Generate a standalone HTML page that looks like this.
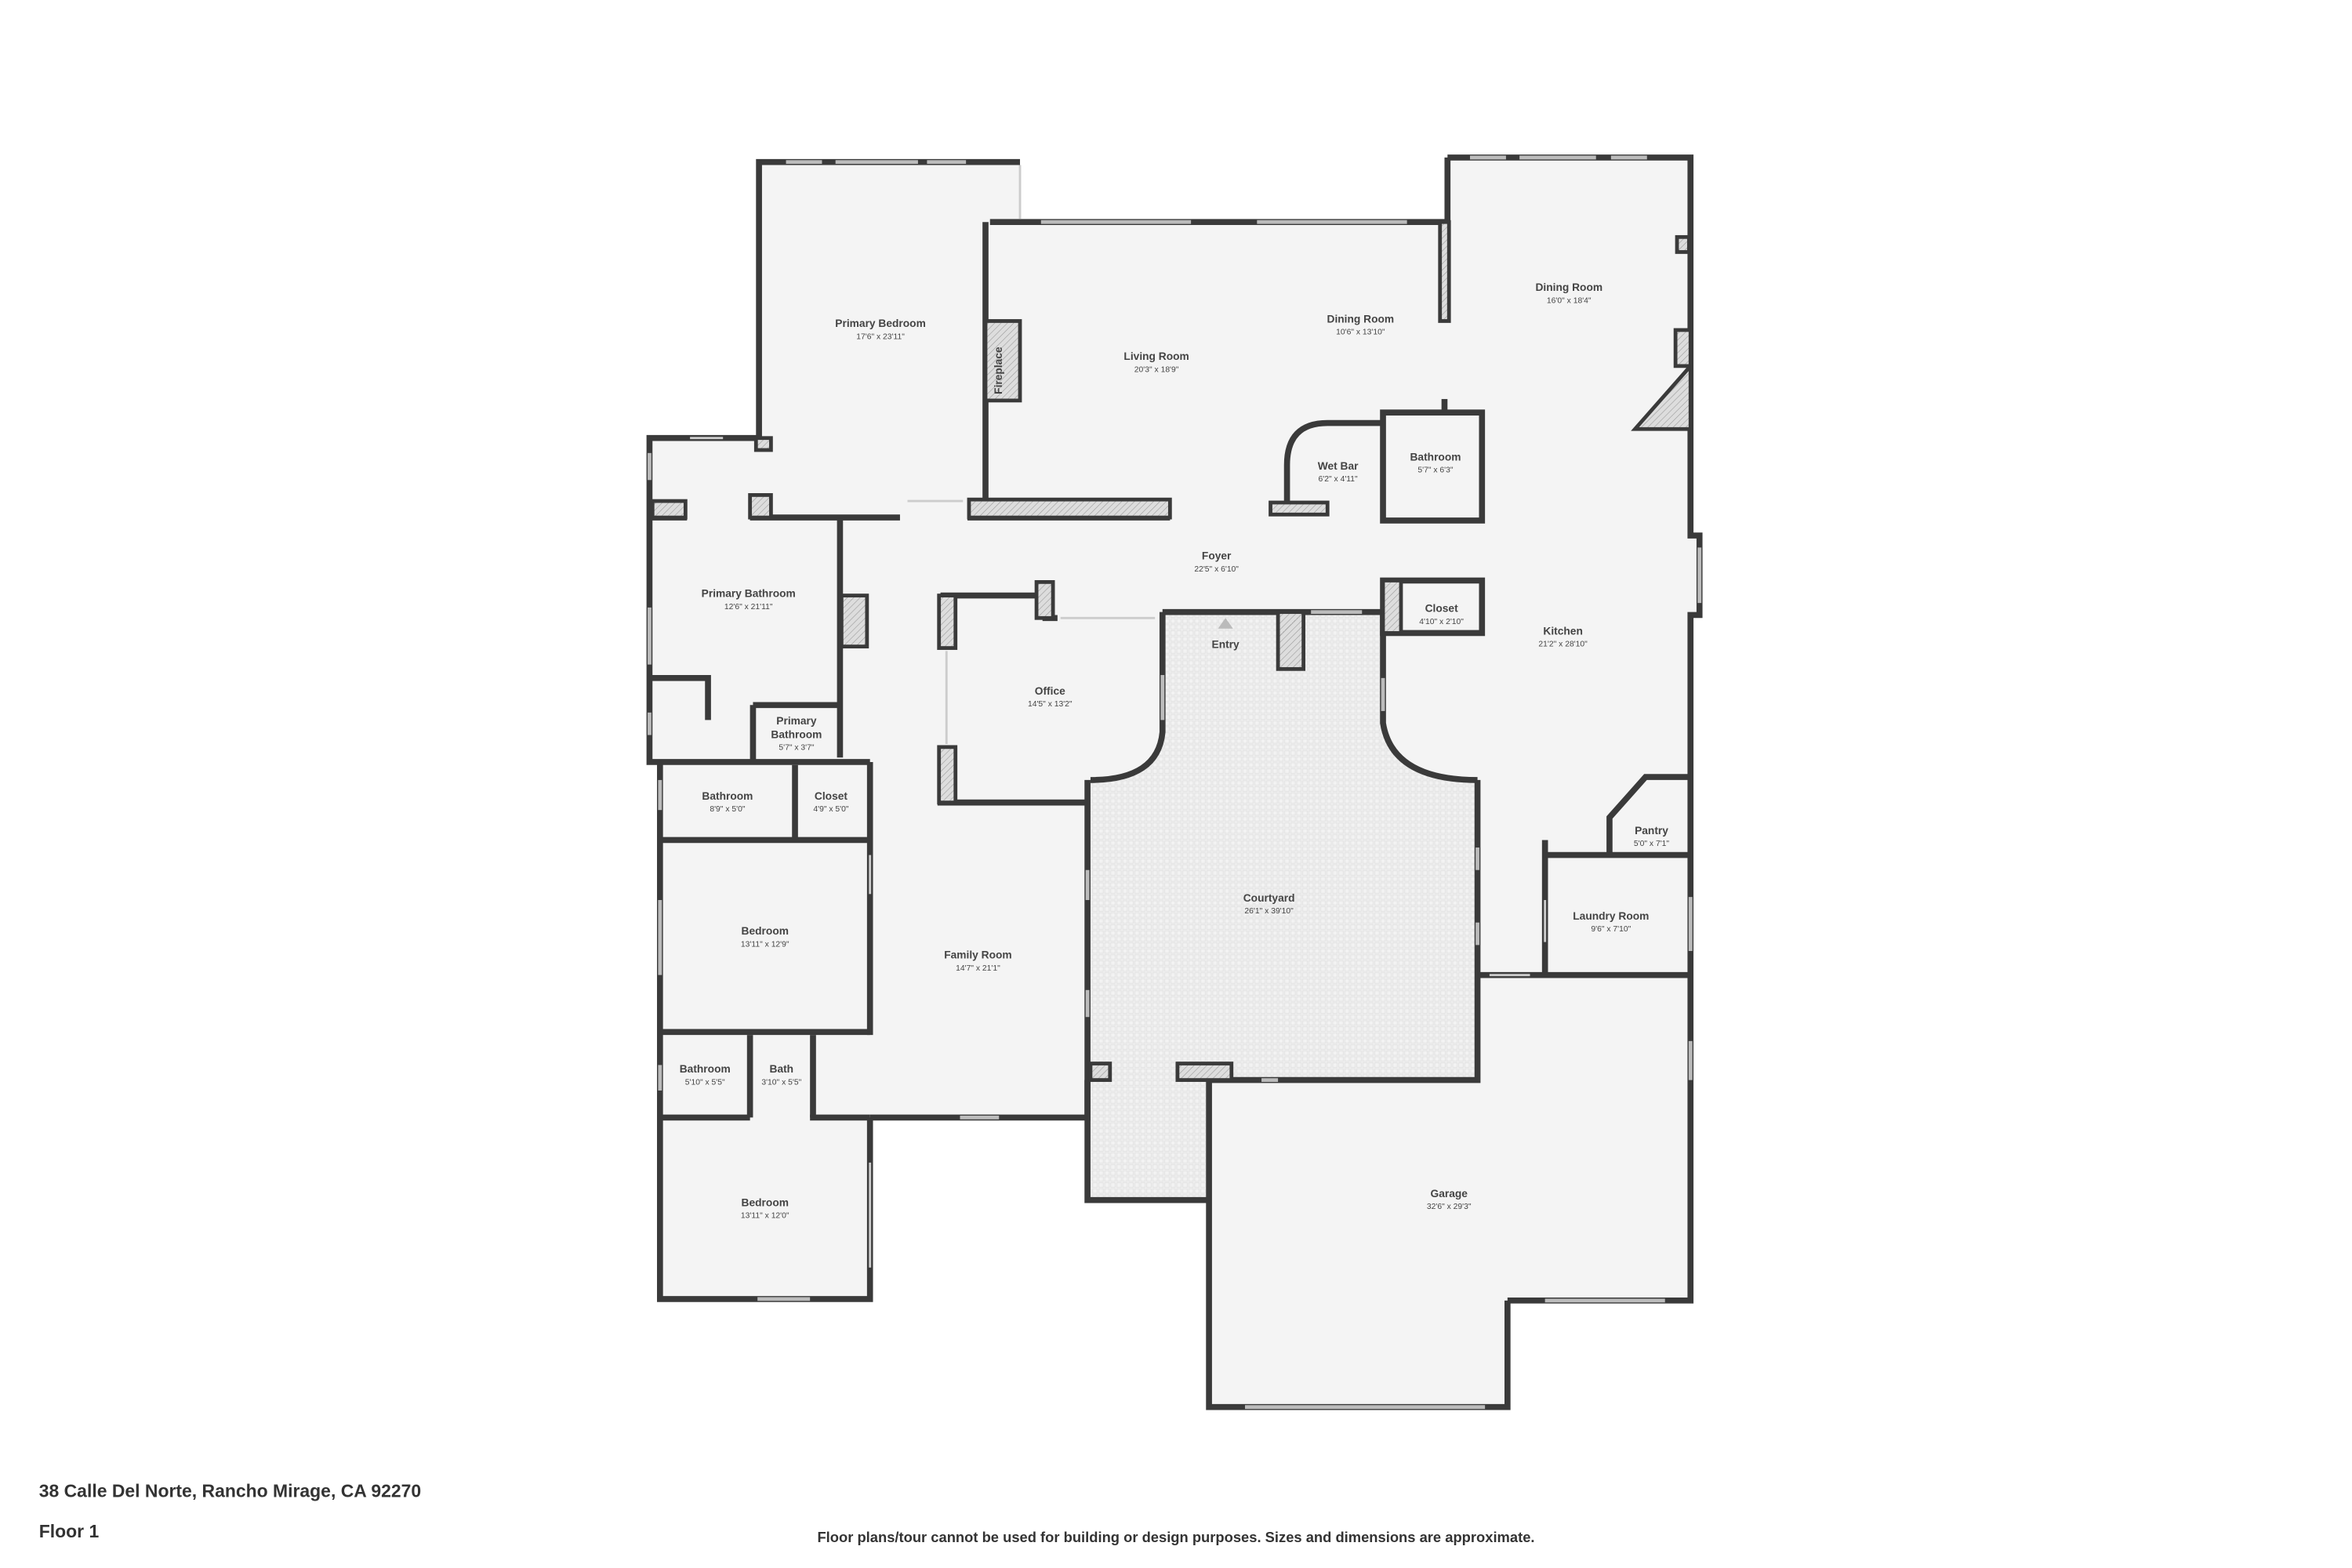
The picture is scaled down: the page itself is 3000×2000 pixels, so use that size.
<!DOCTYPE html>
<html><head><meta charset="utf-8"><style>
html,body{margin:0;padding:0;background:#fff;}
svg{display:block;}
text{font-family:"Liberation Sans",sans-serif;fill:#444;text-anchor:middle;}
.n{font-size:7.2px;font-weight:bold;}
.d{font-size:5.4px;}
</style></head><body>
<svg width="3000" height="2000" viewBox="0 0 1568 1045.3" xmlns="http://www.w3.org/2000/svg">
<defs>
<pattern id="h" width="3" height="3" patternUnits="userSpaceOnUse" patternTransform="rotate(45)"><rect width="3" height="3" fill="#ddd"/><line x1="0" y1="0" x2="0" y2="3" stroke="#999" stroke-width="0.6"/></pattern>
<pattern id="g" width="4" height="4" patternUnits="userSpaceOnUse"><rect width="4" height="4" fill="#f2f2f2"/><rect x="0.5" y="0.5" width="3" height="3" fill="none" stroke="#ddd" stroke-width="0.4"/></pattern>
</defs>
<g fill="#f4f4f4" stroke="none">
<polygon points="506,108 680,108 680,148 965,148 965,105 1127,105 1127,357 1133,357 1133,410 1127,410 1127,867 1005,867 1005,938 806,938 806,720 985,720 985,520 922,480 922,408 775,408 775,490 727,520 725,520 725,745 580,745 580,866 440,866 440,508 433,508 433,292 506,292"/>
<rect x="725" y="408" width="260" height="115"/>
</g>
<path d="M775,408 L922,408 L922,482 Q928,520 985,520 L985,720 L806,720 L806,800 L725,800 L725,520 Q772,520 775,488 Z" fill="url(#g)"/>
<g fill="none" stroke="#3a3a3a" stroke-width="4" stroke-linejoin="miter">
<polyline points="506,296 506,108 680,108"/>
<polyline points="660,148 965,148"/>
<polyline points="657,148 657,345"/>
<polyline points="965,105 1127,105 1127,357 1133,357 1133,410 1127,410 1127,867 1005,867"/>
<polyline points="1005,867 1005,938 806,938 806,720"/>
<polyline points="965,105 965,215"/>
<polyline points="506,292 433,292 433,508 580,508"/>
<polyline points="433,345 458,345"/>
<polyline points="500,345 600,345"/>
<polyline points="645,345 780,345"/>
<polyline points="560,345 560,505"/>
<polyline points="440,508 440,866 580,866 580,745"/>
<polyline points="440,560 580,560"/>
<polyline points="440,688 580,688"/>
<polyline points="440,745 500,745"/>
<polyline points="540,745 580,745"/>
<polyline points="530,510 530,560"/>
<polyline points="580,508 580,690"/>
<polyline points="500,690 500,745"/>
<polyline points="542,690 542,745"/>
<polyline points="502,470 560,470"/>
<polyline points="502,470 502,508"/>
<polyline points="433,452 472,452 472,480"/>
<polyline points="580,745 725,745 725,520"/>
<polyline points="627,397 697,397 697,412 705,412"/>
<polyline points="627,397 627,432"/>
<polyline points="627,498 627,535 725,535"/>
<polyline points="775,408 922,408"/>
<path d="M775,408 L775,488 Q772,520 727,520"/>
<path d="M922,408 L922,482 Q928,520 985,520"/>
<polyline points="985,520 985,720 806,720"/>
<polyline points="725,720 725,800 806,800"/>
<polyline points="985,650 1127,650"/>
<polyline points="1030,570 1127,570"/>
<polyline points="1030,560 1030,650"/>
<polyline points="1073,570 1073,545 1097,518 1127,518"/>
<rect x="922" y="275" width="66" height="72"/>
<path d="M858,338 L858,310 Q858,282 885,282 L922,282"/>
<rect x="922" y="387" width="66" height="35"/>
<line x1="963" y1="266" x2="963" y2="275"/>
</g>
<g fill="url(#h)" stroke="#3a3a3a" stroke-width="2.5">
<rect x="657" y="214" width="23" height="53"/>
<rect x="646" y="333" width="134" height="12"/>
<rect x="847" y="335" width="38" height="8"/>
<rect x="435" y="334" width="22" height="11"/>
<rect x="561" y="397" width="17" height="34"/>
<rect x="626" y="397" width="11" height="35"/>
<rect x="626" y="498" width="11" height="37"/>
<rect x="852" y="408" width="17" height="38"/>
<rect x="922" y="387" width="12" height="35"/>
<rect x="960" y="148" width="6" height="66"/>
<rect x="1117" y="220" width="10" height="24"/>
<polygon points="1127,244 1127,286 1090,286"/>
<rect x="785" y="709" width="36" height="11"/>
<rect x="727" y="709" width="13" height="11"/>
<rect x="691" y="388" width="11" height="24"/>
<rect x="500" y="330" width="14" height="15"/>
<rect x="504" y="292" width="10" height="8"/>
<rect x="1118" y="158" width="8" height="10"/>
</g>
<g stroke="#bbb" stroke-width="2.5" fill="none">
<line x1="524" y1="108" x2="548" y2="108"/><line x1="557" y1="108" x2="612" y2="108"/><line x1="618" y1="108" x2="644" y2="108"/>
<line x1="694" y1="148" x2="794" y2="148"/><line x1="838" y1="148" x2="938" y2="148"/>
<line x1="980" y1="105" x2="1004" y2="105"/><line x1="1013" y1="105" x2="1064" y2="105"/><line x1="1074" y1="105" x2="1098" y2="105"/>
<line x1="1133" y1="365" x2="1133" y2="402"/>
<line x1="433" y1="302" x2="433" y2="320"/><line x1="433" y1="405" x2="433" y2="443"/><line x1="433" y1="475" x2="433" y2="490"/>
<line x1="440" y1="600" x2="440" y2="650"/><line x1="440" y1="710" x2="440" y2="727"/><line x1="440" y1="520" x2="440" y2="540"/>
<line x1="505" y1="866" x2="540" y2="866"/><line x1="640" y1="745" x2="666" y2="745"/>
<line x1="1127" y1="598" x2="1127" y2="634"/><line x1="1127" y1="694" x2="1127" y2="720"/>
<line x1="830" y1="938" x2="990" y2="938"/><line x1="1030" y1="867" x2="1110" y2="867"/>
<line x1="874" y1="408" x2="908" y2="408"/><line x1="725" y1="580" x2="725" y2="600"/><line x1="725" y1="660" x2="725" y2="678"/>
<line x1="775" y1="450" x2="775" y2="480"/><line x1="922" y1="452" x2="922" y2="474"/>
<line x1="985" y1="565" x2="985" y2="580"/><line x1="985" y1="615" x2="985" y2="630"/>
<line x1="841" y1="720" x2="852" y2="720"/>
</g>
<g stroke="#ccc" stroke-width="1.5">
<line x1="680" y1="110" x2="680" y2="146"/><line x1="460" y1="292" x2="482" y2="292"/><line x1="605" y1="334" x2="642" y2="334"/>
<line x1="631" y1="434" x2="631" y2="496"/><line x1="707" y1="412" x2="770" y2="412"/><line x1="580" y1="570" x2="580" y2="596"/>
<line x1="580" y1="775" x2="580" y2="845"/><line x1="1030" y1="600" x2="1030" y2="628"/><line x1="993" y1="650" x2="1020" y2="650"/>
</g>
<polygon points="817,412 812,419 822,419" fill="#bbb"/>
<text class="n" x="668" y="247" transform="rotate(-90 668 247)">Fireplace</text>
<text class="n" x="587" y="218">Primary Bedroom</text><text class="d" x="587" y="226">17'6" x 23'11"</text>
<text class="n" x="771" y="240">Living Room</text><text class="d" x="771" y="248">20'3" x 18'9"</text>
<text class="n" x="907" y="215">Dining Room</text><text class="d" x="907" y="223">10'6" x 13'10"</text>
<text class="n" x="1046" y="194">Dining Room</text><text class="d" x="1046" y="202">16'0" x 18'4"</text>
<text class="n" x="892" y="313">Wet Bar</text><text class="d" x="892" y="321">6'2" x 4'11"</text>
<text class="n" x="957" y="307">Bathroom</text><text class="d" x="957" y="315">5'7" x 6'3"</text>
<text class="n" x="811" y="373">Foyer</text><text class="d" x="811" y="381">22'5" x 6'10"</text>
<text class="n" x="961" y="408">Closet</text><text class="d" x="961" y="416">4'10" x 2'10"</text>
<text class="n" x="817" y="432">Entry</text>
<text class="n" x="1042" y="423">Kitchen</text><text class="d" x="1042" y="431">21'2" x 28'10"</text>
<text class="n" x="499" y="398">Primary Bathroom</text><text class="d" x="499" y="406">12'6" x 21'11"</text>
<text class="n" x="531" y="483">Primary</text><text class="n" x="531" y="492">Bathroom</text><text class="d" x="531" y="500">5'7" x 3'7"</text>
<text class="n" x="700" y="463">Office</text><text class="d" x="700" y="471">14'5" x 13'2"</text>
<text class="n" x="485" y="533">Bathroom</text><text class="d" x="485" y="541">8'9" x 5'0"</text>
<text class="n" x="554" y="533">Closet</text><text class="d" x="554" y="541">4'9" x 5'0"</text>
<text class="n" x="1101" y="556">Pantry</text><text class="d" x="1101" y="564">5'0" x 7'1"</text>
<text class="n" x="846" y="601">Courtyard</text><text class="d" x="846" y="609">26'1" x 39'10"</text>
<text class="n" x="1074" y="613">Laundry Room</text><text class="d" x="1074" y="621">9'6" x 7'10"</text>
<text class="n" x="510" y="623">Bedroom</text><text class="d" x="510" y="631">13'11" x 12'9"</text>
<text class="n" x="652" y="639">Family Room</text><text class="d" x="652" y="647">14'7" x 21'1"</text>
<text class="n" x="470" y="715">Bathroom</text><text class="d" x="470" y="723">5'10" x 5'5"</text>
<text class="n" x="521" y="715">Bath</text><text class="d" x="521" y="723">3'10" x 5'5"</text>
<text class="n" x="966" y="798">Garage</text><text class="d" x="966" y="806">32'6" x 29'3"</text>
<text class="n" x="510" y="804">Bedroom</text><text class="d" x="510" y="812">13'11" x 12'0"</text>
<text x="26" y="998" style="font-size:12px;font-weight:bold;text-anchor:start;fill:#333">38 Calle Del Norte, Rancho Mirage, CA 92270</text>
<text x="26" y="1025" style="font-size:12px;font-weight:bold;text-anchor:start;fill:#333">Floor 1</text>
<text x="784" y="1028" style="font-size:9.6px;font-weight:bold;fill:#333">Floor plans/tour cannot be used for building or design purposes. Sizes and dimensions are approximate.</text>
</svg>
</body></html>
